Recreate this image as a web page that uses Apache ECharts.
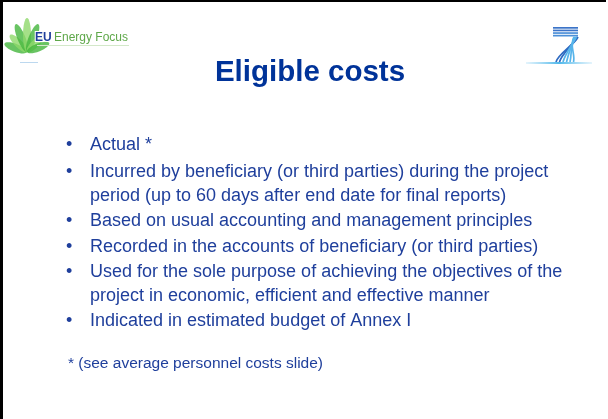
<!DOCTYPE html>
<html>
<head>
<meta charset="utf-8">
<script src="https://cdn.jsdelivr.net/npm/echarts@6/dist/echarts.min.js"></script>
<style>
  html, body { margin: 0; padding: 0; background: #fff; }
  #main { width: 608px; height: 419px; }
</style>
</head>
<body>
<div id="main"></div>
<script>
// slide texts
var title = 'Eligible costs';
var bulletLines = [
  ['Actual *'],
  ['Incurred by beneficiary (or third parties) during the project', 'period (up to 60 days after end date for final reports)'],
  ['Based on usual accounting and management principles'],
  ['Recorded in the accounts of beneficiary (or third parties)'],
  ['Used for the sole purpose of achieving the objectives of the', 'project in economic, efficient and effective manner'],
  ['Indicated in estimated budget of Annex I']
];
var footnote = '* (see average personnel costs slide)';
var logoText = ['EU', 'Energy Focus'];

var myChart = echarts.init(document.getElementById('main'));

var textColor = '#1f3f9c';
var font = '"Liberation Sans", Arial, sans-serif';
var elements = [];

// frame
elements.push({ type: 'rect', shape: { x: 0, y: 0, width: 3, height: 419 }, style: { fill: '#000' } });
elements.push({ type: 'rect', shape: { x: 0, y: 0, width: 606, height: 2 }, style: { fill: '#000' } });

// left logo: fan of leaves
var leafAngles = [70, 45, 22, 0, -22, -45, -68];
leafAngles.forEach(function (a, i) {
  var len = i === 3 ? 17 : (i === 2 || i === 4 ? 15 : 12);
  elements.push({
    type: 'ellipse',
    x: 27, y: 52, rotation: a * Math.PI / 180,
    shape: { cx: 0, cy: -len, rx: 4, ry: len },
    style: { fill: i % 2 ? '#8fd86a' : '#44b53c', opacity: 0.8 }
  });
});
elements.push({ type: 'text', x: 35, y: 38, style: { text: logoText[0], font: 'bold 12px ' + font, fill: '#1f3f9c', stroke: '#ffffff', lineWidth: 2, verticalAlign: 'middle' } });
elements.push({ type: 'text', x: 54, y: 38, style: { text: logoText[1], font: '12px ' + font, fill: '#5fa84a', verticalAlign: 'middle' } });
elements.push({ type: 'rect', shape: { x: 37, y: 45, width: 92, height: 1 }, style: { fill: '#d3e8c9' } });
elements.push({ type: 'rect', shape: { x: 20, y: 62, width: 18, height: 1 }, style: { fill: '#bcd8ef' } });

// right logo: stylised 7
for (var k = 0; k < 4; k++) {
  elements.push({ type: 'rect', shape: { x: 553, y: 27 + k * 2.6, width: 25, height: 1.7 }, style: { fill: k < 2 ? '#3c74c8' : '#4d90d8' } });
}
for (var s = 0; s < 6; s++) {
  elements.push({
    type: 'bezierCurve',
    shape: { x1: 578 - s * 0.8, y1: 37, cpx1: 574 - s, cpy1: 45, x2: 556 + s * 3.5, y2: 62, cpx2: 558 + s * 3.5, cpy2: 54 },
    style: { stroke: s < 2 ? '#2f6bc2' : '#57b4ea', lineWidth: 1.7, fill: null }
  });
}
elements.push({
  type: 'rect', shape: { x: 526, y: 62, width: 66, height: 2 },
  style: { fill: new echarts.graphic.LinearGradient(0, 0, 1, 0, [
    { offset: 0, color: 'rgba(120,200,240,0.2)' },
    { offset: 0.5, color: '#4fb8ea' },
    { offset: 1, color: 'rgba(120,200,240,0.2)' }
  ]) }
});

// title
elements.push({ type: 'text', x: 310, y: 73, style: { text: title, font: 'bold 29.5px ' + font, fill: '#003399', align: 'center', verticalAlign: 'middle' } });

// bullets
var lineY = [145, 172, 196, 221, 247, 272, 296, 321];
var li = 0;
bulletLines.forEach(function (item) {
  elements.push({ type: 'text', x: 66, y: lineY[li], style: { text: '\u2022', font: '18px ' + font, fill: textColor, verticalAlign: 'middle' } });
  item.forEach(function (line) {
    elements.push({ type: 'text', x: 90, y: lineY[li], style: { text: line, font: '18px ' + font, fill: textColor, verticalAlign: 'middle' } });
    li++;
  });
});

elements.push({ type: 'text', x: 68, y: 364, style: { text: footnote, font: '15.5px ' + font, fill: textColor, verticalAlign: 'middle' } });

myChart.setOption({
  backgroundColor: '#fff',
  graphic: { elements: elements }
});
</script>
</body>
</html>
